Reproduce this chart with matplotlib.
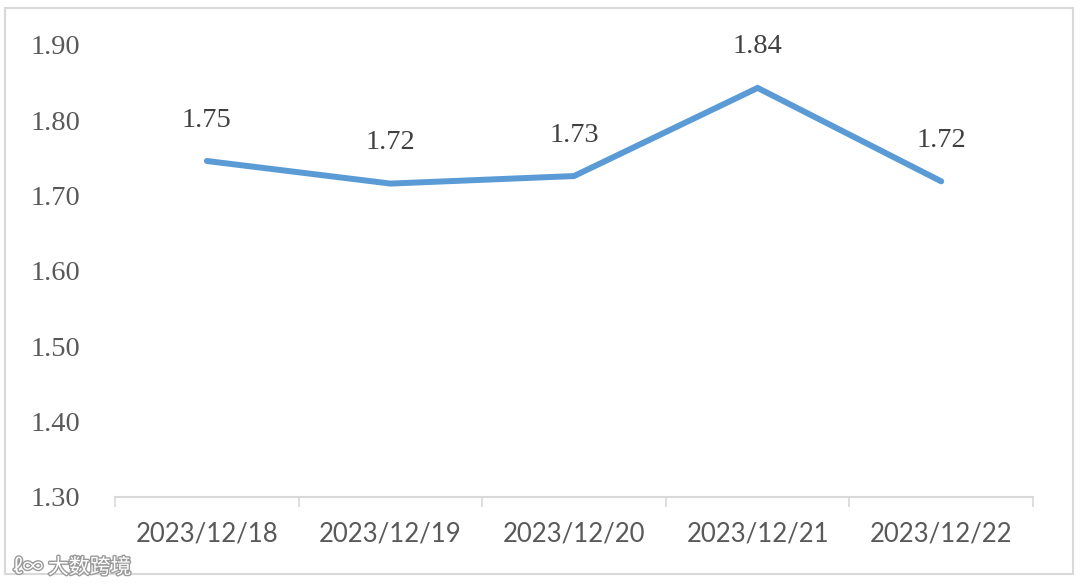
import matplotlib.pyplot as plt
import matplotlib.patches as patches
import matplotlib.patheffects as pe
import numpy as np

# data
dates = ['2023/12/18', '2023/12/19', '2023/12/20', '2023/12/21', '2023/12/22']
values = [1.746, 1.716, 1.726, 1.843, 1.719]
labels = ['1.75', '1.72', '1.73', '1.84', '1.72']
yticks = [1.30, 1.40, 1.50, 1.60, 1.70, 1.80, 1.90]

fig = plt.figure(figsize=(10.8, 5.84), dpi=100)
ax = fig.add_axes([0.1065, 0.149, 0.85, 0.774])

x = np.arange(len(dates))
ax.plot(x, values, color='#5B9BD5', linewidth=4.3, solid_capstyle='round', solid_joinstyle='miter')

for xi, v, t in zip(x, values, labels):
    ax.annotate(t, (xi, v), xytext=(0, 29.5), textcoords='offset points',
                ha='center', va='center', fontsize=20.5, color='#404040',
                family='Liberation Serif')

ax.set_xlim(-0.5, len(dates) - 0.5)
ax.set_ylim(1.30, 1.90)
ax.set_yticks(yticks)
ax.set_yticklabels(['%.2f' % t for t in yticks], family='Liberation Serif',
                   fontsize=20.5, color='#595959')
ax.set_xticks(x)
ax.set_xticklabels(dates, family='Lato', fontsize=18.5, color='#595959')
ax.set_xticks(np.arange(-0.5, len(dates)), minor=True)
ax.tick_params(axis='x', which='major', length=0, pad=18)
ax.tick_params(axis='x', which='minor', length=7, width=1.2, color='#D9D9D9', direction='out')
for s in ['top', 'right', 'left']:
    ax.spines[s].set_visible(False)
ax.spines['bottom'].set_color('#D9D9D9')
ax.spines['bottom'].set_linewidth(1.5)
for lab in ax.get_yticklabels():
    lab.set_horizontalalignment('left')
ax.tick_params(axis='y', length=0, pad=61)

# outer border
fig.patches.append(patches.Rectangle((5 / 1080, 10 / 584), 1068 / 1080, 566 / 584,
                                     transform=fig.transFigure, fill=False,
                                     edgecolor='#D9D9D9', linewidth=1.5))

# watermark
fig.text(0.012, 0.018, 'ℓ∞ 大数跨境', family=['Noto Sans CJK SC', 'DejaVu Sans'],
         fontsize=15, color='white',
         path_effects=[pe.withStroke(linewidth=2, foreground='#9a9a9a')])

fig.savefig('out.png', dpi=100)
